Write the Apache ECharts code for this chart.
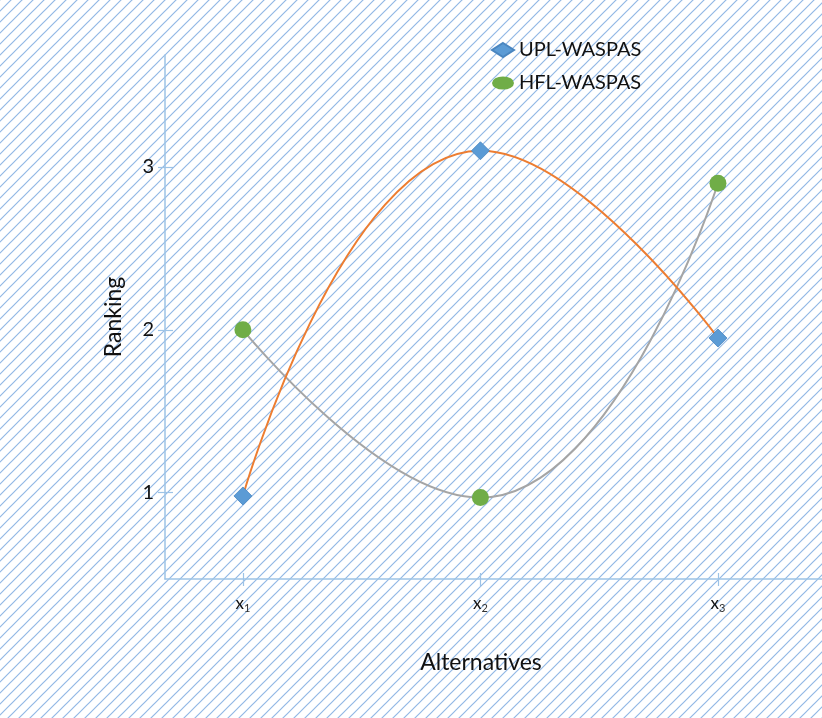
<!DOCTYPE html>
<html>
<head>
<meta charset="utf-8">
<script src="https://cdn.jsdelivr.net/npm/echarts@6/dist/echarts.min.js"></script>
<style>
  html, body { margin: 0; padding: 0; background: #fff; }
  #chart { width: 822px; height: 718px; }
</style>
</head>
<body>
<div id="chart"></div>
<script>
// Alternatives and their rankings under the two methods
const alternatives = ['1', '2', '3'];          // subscripts of x
const altPositions = [1, 2, 3];
const uplWaspas = [0.98, 3.1, 1.95];
const hflWaspas = [2.0, 0.97, 2.9];
const rankTicks = [1, 2, 3];

// Diagonal hatch used as the page background
function hatchPattern() {
  const s = 11;
  const c = document.createElement('canvas');
  c.width = s; c.height = s;
  const g = c.getContext('2d');
  g.strokeStyle = 'rgba(110,160,220,0.75)';
  g.lineWidth = 1.2;
  g.beginPath();
  g.moveTo(-2, s + 2); g.lineTo(s + 2, -2);
  g.moveTo(-2, 2); g.lineTo(2, -2);
  g.moveTo(s - 2, s + 2); g.lineTo(s + 2, s - 2);
  g.stroke();
  return { image: c, repeat: 'repeat' };
}

const axisBlue = '#9dc3e6';
const font = 'Lato, "Open Sans", sans-serif';
const ellipsePath = 'path://M0,6a10,6 0 1,0 20,0a10,6 0 1,0 -20,0z';
const xMin = 0.672, xMax = 3.438;
const yMin = 0.47, yMax = 3.688;

const chart = echarts.init(document.getElementById('chart'), null, { renderer: 'canvas' });

const toPairs = vals => vals.map((v, i) => [altPositions[i], v]);

chart.setOption({
  backgroundColor: hatchPattern(),
  animation: false,
  textStyle: { fontFamily: font },
  legend: {
    orient: 'vertical',
    left: 486,
    top: 35,
    itemWidth: 22,
    itemHeight: 14,
    itemGap: 13,
    textStyle: { fontSize: 20, color: '#111', fontFamily: font },
    data: [
      { name: 'UPL-WASPAS', icon: 'diamond' },
      { name: 'HFL-WASPAS', icon: ellipsePath }
    ]
  },
  // x-axis title, centred under the plotted alternatives
  graphic: [{
    type: 'text',
    x: 481,
    y: 663,
    style: {
      text: 'Alternatives',
      fontSize: 23,
      fontFamily: font,
      fill: '#111',
      align: 'center',
      verticalAlign: 'middle'
    }
  }],
  grid: { left: 165, right: 0, top: 55, bottom: 139 },
  xAxis: [{
    type: 'value',
    min: xMin,
    max: xMax,
    axisLine: { show: true, lineStyle: { color: axisBlue, width: 1.5 } },
    axisTick: { show: true, length: 7, customValues: altPositions, lineStyle: { color: axisBlue, width: 1.2 } },
    splitLine: { show: false },
    axisLabel: {
      customValues: altPositions,
      margin: 15,
      formatter: v => 'x{s|' + alternatives[altPositions.indexOf(v)] + '}',
      color: '#111',
      fontSize: 17,
      fontFamily: font,
      rich: { s: { fontSize: 11, color: '#333', padding: [9, 0, 0, 0], fontFamily: font } }
    }
  }, {
    // upper half of the crossing tick marks
    type: 'value',
    position: 'bottom',
    min: xMin,
    max: xMax,
    axisLine: { show: false },
    axisTick: { show: true, inside: true, length: 6, customValues: altPositions, lineStyle: { color: axisBlue, width: 1.2 } },
    axisLabel: { show: false },
    splitLine: { show: false }
  }],
  yAxis: [{
    type: 'value',
    min: yMin,
    max: yMax,
    name: 'Ranking',
    nameLocation: 'middle',
    nameGap: 40,
    nameRotate: 90,
    nameTextStyle: { fontSize: 23, color: '#111', fontFamily: font },
    axisLine: { show: true, lineStyle: { color: axisBlue, width: 1.5 } },
    axisTick: { show: true, length: 7, customValues: rankTicks, lineStyle: { color: axisBlue, width: 1.2 } },
    splitLine: { show: false },
    axisLabel: { customValues: rankTicks, margin: 11, fontSize: 20, color: '#111', fontFamily: font }
  }, {
    // inner half of the crossing tick marks
    type: 'value',
    position: 'left',
    min: yMin,
    max: yMax,
    axisLine: { show: false },
    axisTick: { show: true, inside: true, length: 8, customValues: rankTicks, lineStyle: { color: axisBlue, width: 1.2 } },
    axisLabel: { show: false },
    splitLine: { show: false }
  }],
  series: [{
    name: 'UPL-WASPAS',
    type: 'line',
    smooth: 0.5,
    data: toPairs(uplWaspas),
    symbol: 'diamond',
    symbolSize: [18, 18],
    lineStyle: { color: '#ed7d31', width: 2 },
    itemStyle: { color: '#5b9bd5', borderColor: '#4a86c0', borderWidth: 0.8 },
    z: 3
  }, {
    name: 'HFL-WASPAS',
    type: 'line',
    smooth: 0.5,
    data: toPairs(hflWaspas),
    symbol: 'circle',
    symbolSize: 17,
    lineStyle: { color: '#a5a5a5', width: 2 },
    itemStyle: { color: '#70ad47' },
    z: 2
  }]
});
</script>
</body>
</html>
